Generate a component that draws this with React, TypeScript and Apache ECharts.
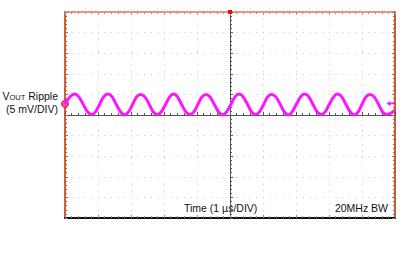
import React, { useEffect, useRef } from "react";
import * as echarts from "echarts";

// Time in µs relative to the trigger (centre of screen)
const timeUs = [
  -5.0, -4.84, -4.71, -4.58, -4.45, -4.32, -4.19, -4.07, -3.95, -3.83, -3.7, -3.57, -3.45, -3.32,
  -3.19, -3.07, -2.95, -2.83, -2.71, -2.58, -2.45, -2.33, -2.2, -2.08, -1.95, -1.83, -1.71, -1.59,
  -1.47, -1.34, -1.21, -1.09, -0.97, -0.85, -0.72, -0.6, -0.47, -0.35, -0.22, -0.1, 0.03, 0.15,
  0.28, 0.4, 0.53, 0.65, 0.78, 0.9, 1.02, 1.14, 1.26, 1.39, 1.52, 1.64, 1.77, 1.89, 2.01, 2.14,
  2.26, 2.39, 2.51, 2.64, 2.77, 2.89, 3.01, 3.14, 3.26, 3.39, 3.51, 3.64, 3.77, 3.89, 4.0, 4.12,
  4.24, 4.37, 4.5, 4.62, 4.75, 4.88, 5.0,
];
// Output ripple in mV
const rippleMv = [
  2.7, 4.5, 5.1, 4.4, 2.6, 0.8, 0.1, 0.8, 2.6, 4.4, 5.1, 4.4, 2.6, 0.8, 0.0, 0.8, 2.6, 4.4, 5.0,
  4.4, 2.6, 0.8, 0.1, 0.8, 2.6, 4.4, 5.1, 4.4, 2.6, 0.8, 0.1, 0.8, 2.6, 4.4, 5.0, 4.3, 2.5, 0.8,
  0.0, 0.8, 2.6, 4.4, 5.1, 4.4, 2.6, 0.8, 0.1, 0.8, 2.6, 4.4, 5.0, 4.4, 2.6, 0.8, 0.0, 0.8, 2.6,
  4.4, 5.1, 4.4, 2.6, 0.8, 0.1, 0.8, 2.6, 4.4, 5.1, 4.4, 2.6, 0.8, 0.0, 0.8, 2.6, 4.4, 5.0, 4.4,
  2.6, 0.8, 0.1, 0.5, 1.2,
];
const xRange = [-5, 5];
const yRange = [-25, 25];
const xDiv = 1;
const yDiv = 5;
const channelMarker = [-5, 2.7];
const triggerLevel = [5, 2.8];
const triggerTime = [0, 25];

const yLabel1 = "{a|V}{b|OUT}{a| Ripple}";
const yLabel2 = "(5 mV/DIV)";
const xLabel = "Time (1 µs/DIV)";
const bwLabel = "20MHz BW";

const FONT = '"Liberation Sans", Arial, sans-serif';

export default function App() {
  const ref = useRef<HTMLDivElement>(null);
  useEffect(() => {
    if (!ref.current) return;
    const chart = echarts.init(ref.current, undefined, { renderer: "svg" });
    const baseX = {
      type: "value",
      min: xRange[0],
      max: xRange[1],
      interval: xDiv,
      axisLabel: { show: false },
      splitLine: { show: false },
    };
    const baseY = {
      type: "value",
      min: yRange[0],
      max: yRange[1],
      interval: yDiv,
      axisLabel: { show: false },
      splitLine: { show: false },
    };
    const ticks = (color: string) => ({
      axisTick: { show: true, inside: true, length: 3, lineStyle: { color, width: 1 } },
      minorTick: { show: true, splitNumber: 5, length: 2, lineStyle: { color, width: 1 } },
    });
    const option: any = {
      animation: false,
      grid: { left: 65, top: 12, width: 330, height: 206, show: false },
      xAxis: [
        {
          ...baseX,
          position: "bottom",
          axisLine: { onZero: true, lineStyle: { color: "#555", width: 1 } },
          ...ticks("#555"),
          splitLine: { show: true, lineStyle: { color: "#c4c4c4", width: 1, type: [1, 5.6] } },
        },
        {
          ...baseX,
          position: "bottom",
          axisLine: { onZero: false, lineStyle: { color: "#111", width: 2 } },
          ...ticks("#888"),
        },
        {
          ...baseX,
          position: "top",
          axisLine: { onZero: false, lineStyle: { color: "#e8705c", width: 1.5 } },
          ...ticks("#999"),
        },
      ],
      yAxis: [
        {
          ...baseY,
          position: "left",
          axisLine: { onZero: true, lineStyle: { color: "#555", width: 1 } },
          ...ticks("#555"),
          splitLine: { show: true, lineStyle: { color: "#c4c4c4", width: 1, type: [1, 5.6] } },
        },
        {
          ...baseY,
          position: "left",
          axisLine: { onZero: false, lineStyle: { color: "#e0582a", width: 2 } },
          ...ticks("#777"),
        },
        {
          ...baseY,
          position: "right",
          axisLine: { onZero: false, lineStyle: { color: "#d9552a", width: 2 } },
          ...ticks("#777"),
        },
      ],
      series: [
        {
          type: "line",
          xAxisIndex: 0,
          yAxisIndex: 0,
          data: timeUs.map((t, i) => [t, rippleMv[i]]),
          smooth: 0.3,
          symbol: "none",
          lineStyle: { color: "#ff14ff", width: 3 },
          z: 5,
          markPoint: {
            silent: true,
            label: { show: false },
            data: [
              {
                coord: channelMarker,
                symbol: "circle",
                symbolSize: 7,
                itemStyle: { color: "#ff4a8a", borderColor: "#c0206a", borderWidth: 1 },
              },
              {
                coord: triggerLevel,
                symbol: "path://M0,5 L6,0 L6,3.5 L14,3.5 L14,6.5 L6,6.5 L6,10 Z",
                symbolSize: [9, 5],
                symbolOffset: [-4, 0],
                itemStyle: { color: "#ff10ff" },
              },
              {
                coord: triggerTime,
                symbol: "rect",
                symbolSize: [4, 4],
                itemStyle: { color: "#e01010" },
              },
            ],
          },
        },
      ],
      graphic: [
        {
          type: "text",
          x: 58,
          y: 96,
          style: {
            text: yLabel1,
            align: "right",
            verticalAlign: "middle",
            fill: "#111",
            rich: {
              a: { fontSize: 10.5, fontFamily: FONT, fill: "#111" },
              b: { fontSize: 7.5, fontFamily: FONT, fill: "#111", verticalAlign: "bottom" },
            },
          },
        },
        {
          type: "text",
          x: 58,
          y: 109,
          style: { text: yLabel2, align: "right", verticalAlign: "middle", fill: "#111", font: `10.5px ${FONT}` },
        },
        {
          type: "text",
          x: 184,
          y: 208,
          style: { text: xLabel, align: "left", verticalAlign: "middle", fill: "#111", font: `10.5px ${FONT}` },
        },
        {
          type: "text",
          x: 388,
          y: 208,
          style: { text: bwLabel, align: "right", verticalAlign: "middle", fill: "#111", font: `10.5px ${FONT}` },
        },
      ],
    };
    chart.setOption(option);
    return () => chart.dispose();
  }, []);
  return (
    <div
      ref={ref}
      style={{ position: "fixed", left: 0, top: 0, width: 409, height: 267, background: "#fff" }}
    />
  );
}
